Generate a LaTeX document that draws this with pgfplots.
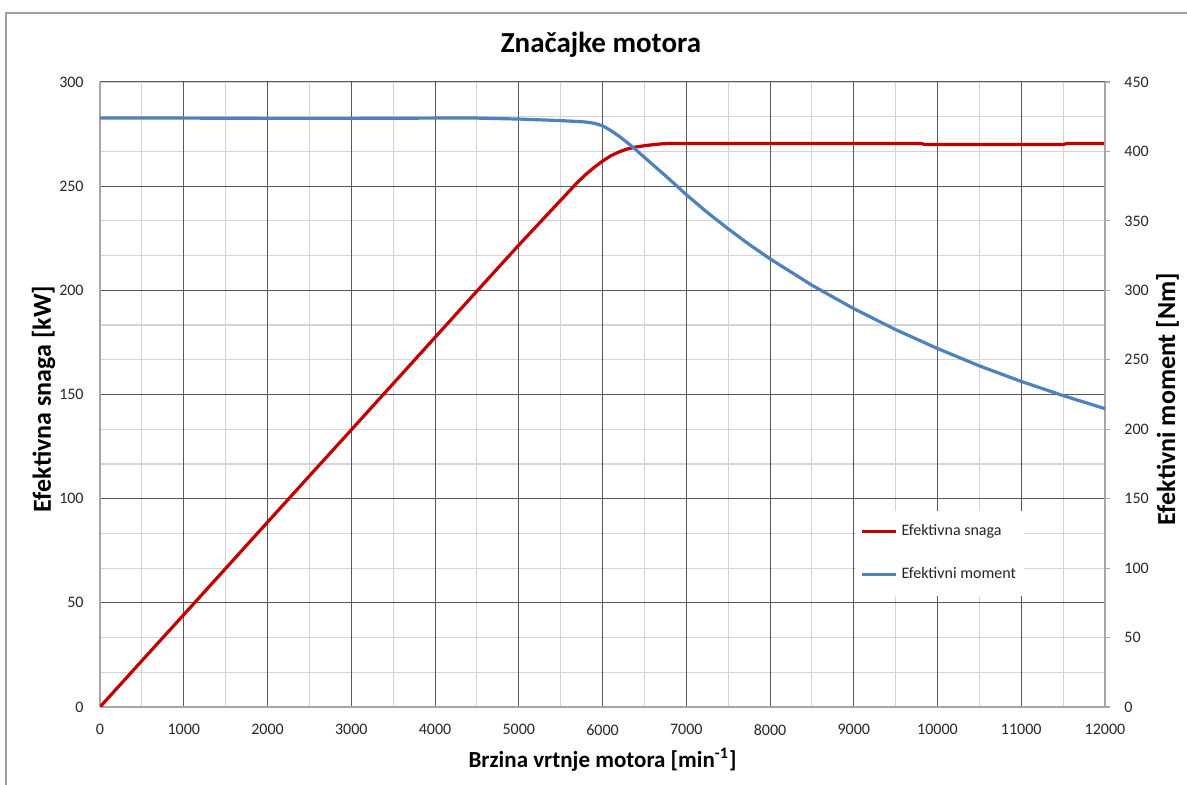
\documentclass[border=0pt]{standalone}
\usepackage{pgfplots}
\pgfplotsset{compat=1.18}
\usepackage{fontspec}
\setmainfont{Carlito}
\definecolor{exred}{HTML}{C00000}
\definecolor{exblue}{HTML}{4F81BD}
\definecolor{darkgrid}{HTML}{595959}
\definecolor{lightgrid}{HTML}{D4D4D4}
\definecolor{axgray}{HTML}{A6A6A6}
\definecolor{ticktext}{HTML}{262626}
\definecolor{framegray}{HTML}{A0A0A0}

\pgfplotstableread{
n P
0 0
500 22.2
1000 44.3
1500 66.5
2000 88.7
2500 110.9
3000 133.0
3500 155.2
4000 177.4
4500 199.6
5000 221.7
5500 243.2
5700 251.8
5800 255.6
5900 259.0
6000 262.0
6100 264.6
6200 266.5
6300 267.9
6400 268.8
6500 269.4
6600 269.9
6700 270.3
6800 270.5
7000 270.5
8000 270.5
9000 270.5
9800 270.5
9850 270.0
11500 270.0
11550 270.5
12000 270.5
}\snaga

\pgfplotstableread{
n T
0 424.0
1000 424.0
2000 423.8
3000 423.8
4000 424.0
4500 424.0
5000 423.3
5500 422.2
5800 421.2
5900 420.3
6000 418.5
6100 415.0
6200 410.9
6300 406.2
6400 401.1
6500 395.8
6600 390.5
6700 385.2
6800 379.9
7000 368.9
7250 356.1
7500 344.3
7750 333.1
8000 322.7
8500 303.7
9000 286.8
9500 271.7
10000 258.1
10500 245.6
11000 234.4
11500 224.2
12000 214.8
}\moment

\begin{document}
\begin{tikzpicture}
\pgfplotsset{
  base/.style={
    scale only axis, width=502.5pt, height=312.5pt,
    at={(0,0)}, anchor=south west,
    xmin=0, xmax=12000,
    scaled x ticks=false, scaled y ticks=false,
    /pgf/number format/assume math mode=true,
    /pgf/number format/1000 sep={},
    tick label style={font=\fontsize{8}{9.6}\selectfont, text=ticktext},
  }
}
% light grid (secondary scale)
\begin{axis}[base, ymin=0, ymax=450,
  xtick={0,1000,...,12000}, ytick={0,50,...,450},
  minor x tick num=1, minor y tick num=1,
  xminorgrids, ymajorgrids, yminorgrids,
  major grid style={lightgrid, line width=0.6pt},
  minor grid style={lightgrid, line width=0.6pt},
  axis line style={draw=none},
  xticklabels={}, yticklabels={},
  major tick length=0pt, minor tick length=0pt]
\addplot[draw=none] coordinates {(0,0)};
\end{axis}
% primary axis
\begin{axis}[base, ymin=0, ymax=300,
  xtick={0,1000,...,12000}, ytick={0,50,...,300},
  xmajorgrids, ymajorgrids,
  major grid style={darkgrid, line width=0.5pt},
  axis x line*=bottom, axis y line*=left,
  axis line style={axgray, line width=0.6pt, -},
  major tick length=0pt,
  yticklabel style={anchor=east, inner sep=0pt, xshift=-8pt},
  xticklabel style={anchor=north, inner sep=0pt, yshift=-8.5pt}]
\addplot[exred, line width=1.6pt] table[x=n, y=P] {\snaga};
\end{axis}
% secondary axis
\begin{axis}[base, ymin=0, ymax=450,
  ytick={0,50,...,450},
  axis y line*=right, axis x line=none,
  y axis line style={axgray, line width=0.6pt, -},
  ytick style={axgray, line width=0.6pt},
  tick align=outside, major tick length=2.5pt,
  yticklabel style={anchor=west, inner sep=0pt, xshift=7pt},
  legend style={at={(0.752,0.315)}, anchor=north west, draw=none, fill=white,
    font=\fontsize{8}{9.6}\selectfont, text=ticktext,
    inner xsep=2pt, inner ysep=5pt, row sep=10.5pt},
  legend cell align=left]
\addlegendimage{exred, line width=1.6pt}
\addplot[exblue, line width=1.6pt] table[x=n, y=T] {\moment};
\legend{Efektivna snaga, Efektivni moment}
\end{axis}

\node[font=\bfseries\fontsize{14.5}{17}\selectfont, anchor=base] at (250.5pt,327.3pt) {Značajke motora};
\node[font=\bfseries\fontsize{11.5}{14}\selectfont, anchor=base] at (251.25pt,-30.35pt) {Brzina vrtnje motora [min\textsuperscript{-1}]};
\node[font=\bfseries\fontsize{13}{15}\selectfont, anchor=base, rotate=90] at (-24.5pt,154pt) {Efektivna snaga [kW]};
\node[font=\bfseries\fontsize{13}{15}\selectfont, anchor=base, rotate=90] at (537.5pt,154pt) {Efektivni moment [Nm]};
\draw[framegray, line width=0.8pt] (-47pt,-39pt) -- (-47pt,347pt) -- (543.5pt,347pt);

\pgfresetboundingbox
\path[use as bounding box] (-50pt,-39pt) rectangle (543.5pt,353.5pt);
\end{tikzpicture}
\end{document}
